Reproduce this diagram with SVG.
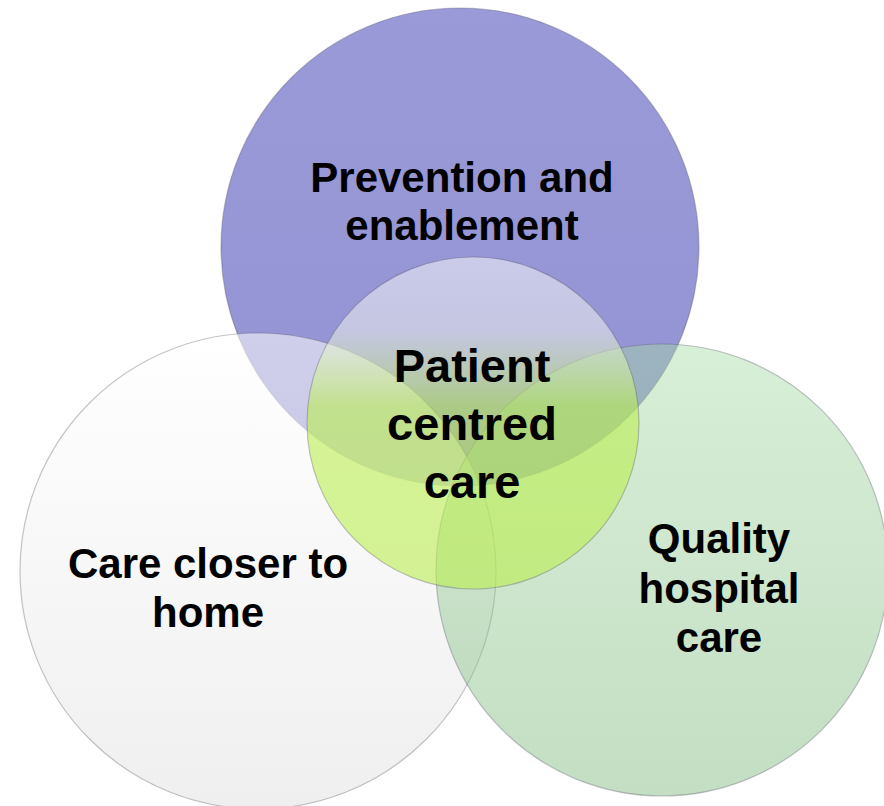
<svg xmlns="http://www.w3.org/2000/svg" width="884" height="806" viewBox="0 0 884 806">
  <style>
    .lbl { font-family: "Liberation Sans", Arial, sans-serif; font-weight: bold; fill: #000; text-anchor: middle; }
    .edge { stroke: #55556a; stroke-opacity: 0.35; stroke-width: 1.2; }
  </style>
  <defs>
    <linearGradient id="gPurple" x1="0" y1="0" x2="0" y2="1">
      <stop offset="0" stop-color="#9a9ad8"/>
      <stop offset="1" stop-color="#9393d4"/>
    </linearGradient>
    <linearGradient id="gWhite" x1="0" y1="0" x2="0" y2="1">
      <stop offset="0" stop-color="#ffffff"/>
      <stop offset="1" stop-color="#e2e2e2"/>
    </linearGradient>
    <linearGradient id="gGreen" x1="0" y1="0" x2="0" y2="1">
      <stop offset="0" stop-color="#a7daa7"/>
      <stop offset="1" stop-color="#7ab67a"/>
    </linearGradient>
    <linearGradient id="gCenter" x1="0" y1="0" x2="0" y2="1">
      <stop offset="0" stop-color="#ffffff" stop-opacity="0.5"/>
      <stop offset="0.22" stop-color="#f4f8ee" stop-opacity="0.5"/>
      <stop offset="0.45" stop-color="#bbee50" stop-opacity="0.6"/>
      <stop offset="1" stop-color="#bbee50" stop-opacity="0.6"/>
    </linearGradient>
  </defs>

  <rect width="884" height="806" fill="#ffffff"/>

  <g id="node-prevention">
    <circle cx="460" cy="247" r="239" fill="url(#gPurple)" class="edge"/>
    <text class="lbl" font-size="42" x="462" y="192">Prevention and</text>
    <text class="lbl" font-size="42" x="462" y="240">enablement</text>
  </g>

  <g id="node-care-closer">
    <circle cx="258" cy="571" r="238" fill="url(#gWhite)" fill-opacity="0.55" class="edge"/>
    <text class="lbl" font-size="42" x="208" y="578">Care closer to</text>
    <text class="lbl" font-size="42" x="208" y="627">home</text>
  </g>

  <g id="node-quality">
    <circle cx="662" cy="570" r="226" fill="url(#gGreen)" fill-opacity="0.45" class="edge"/>
    <text class="lbl" font-size="42" x="719" y="553">Quality</text>
    <text class="lbl" font-size="42" x="719" y="603">hospital</text>
    <text class="lbl" font-size="42" x="719" y="652">care</text>
  </g>

  <g id="node-patient">
    <circle cx="473" cy="423" r="166" fill="url(#gCenter)" class="edge"/>
    <text class="lbl" font-size="47" x="472" y="382">Patient</text>
    <text class="lbl" font-size="47" x="472" y="440">centred</text>
    <text class="lbl" font-size="47" x="472" y="498">care</text>
  </g>
</svg>
